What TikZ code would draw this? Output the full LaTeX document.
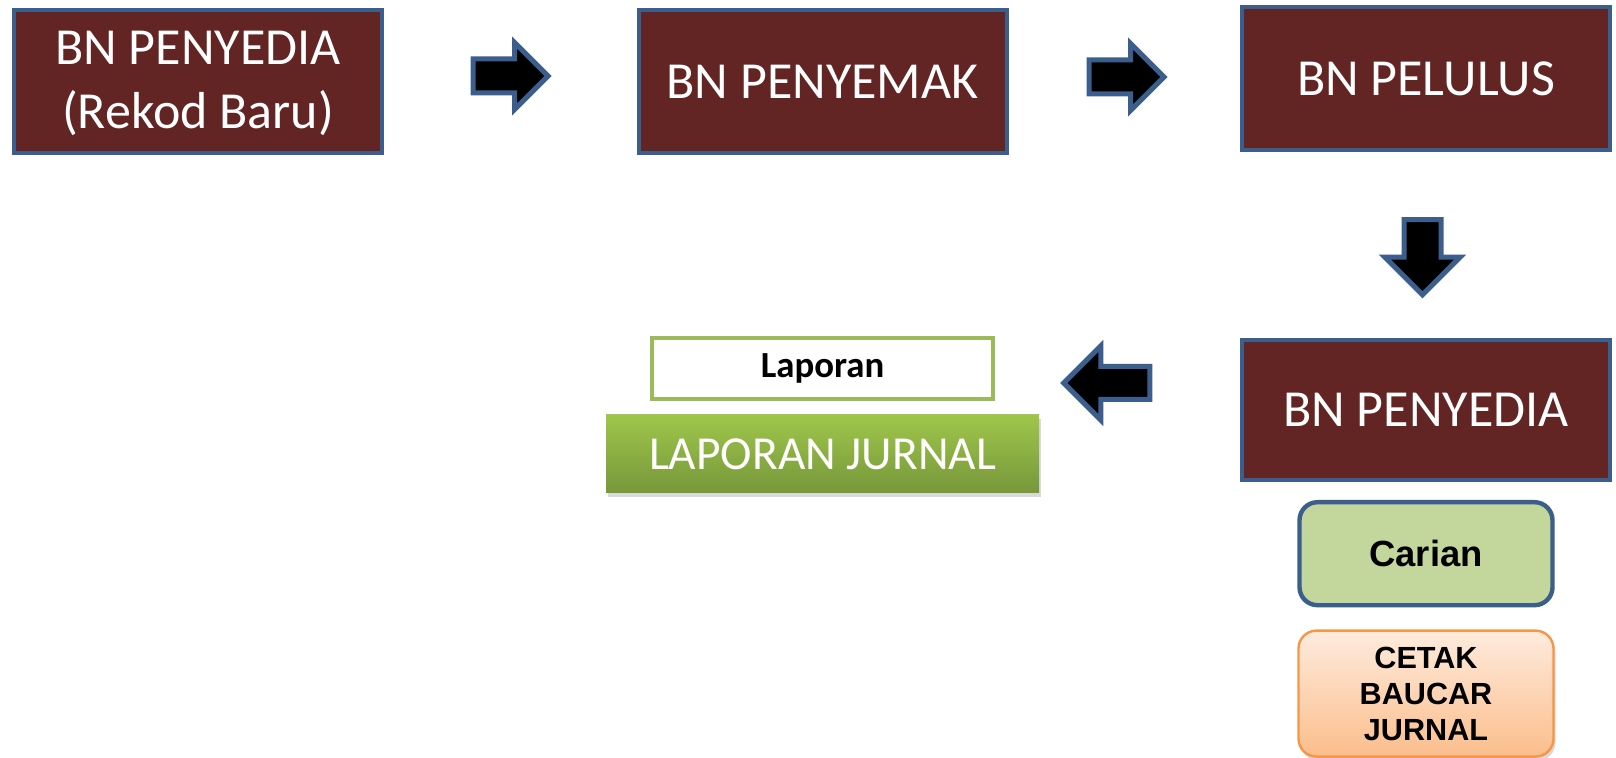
\documentclass[tikz,border=0pt]{standalone}
\usepackage{fontspec}
\setmainfont{Carlito}
\newfontfamily\arialfont{Liberation Sans}
\usepackage{tikz}
\usetikzlibrary{positioning,shapes.arrows,shadows}
\definecolor{maroon}{HTML}{632523}
\definecolor{edgeblue}{HTML}{3B5E8C}
\definecolor{olivegreen}{HTML}{9BBB59}
\definecolor{greentop}{HTML}{9FC64B}
\definecolor{greenbot}{HTML}{77973A}
\definecolor{carianfill}{HTML}{C3D69B}
\definecolor{orangeline}{HTML}{F79646}
\definecolor{orangetop}{HTML}{FEEBDD}
\definecolor{orangebot}{HTML}{FBBE8C}
\tikzstyle{stage} = [draw=edgeblue, line width=2pt, fill=maroon, text=white, minimum width=184pt, minimum height=71.5pt, inner sep=0pt, align=center, font=\fontsize{26}{32}\selectfont]
\tikzstyle{blockarrow} = [single arrow, draw=edgeblue, line width=2.5pt, fill=black, inner xsep=0pt, single arrow tip angle=90]
\tikzstyle{softshadow} = [drop shadow={shadow xshift=1pt, shadow yshift=-2pt, opacity=0.3}]

\begin{document}
\begin{tikzpicture}[x=0.5pt,y=-0.5pt]
			\useasboundingbox (0,0) rectangle (1616,758);
			\node[stage, text depth=2pt] (s) at (198,81.5) {BN PENYEDIA\\(Rekod Baru)};
			\node[stage] (t) at (822.5,81.5) {BN PENYEMAK};
			\node[stage] (u) at (1426,78.5) {BN PELULUS};
			\node[stage, minimum height=70pt] (v) at (1426,410) {BN PENYEDIA};
% 			arrows between the stages
			\node[blockarrow, minimum height=37.5pt, inner ysep=7.25pt, single arrow head extend=8.25pt] (st) at (502,76) {};
			\node[blockarrow, minimum height=37.5pt, inner ysep=7.25pt, single arrow head extend=8.25pt] (tu) at (1118,77) {};
			\node[blockarrow, shape border rotate=270, minimum height=37.5pt, inner xsep=8pt, inner ysep=0pt, single arrow head extend=9.5pt] (uv) at (1422.5,248) {};
			\node[blockarrow, shape border rotate=180, minimum height=43pt, inner ysep=7pt, single arrow head extend=10.25pt] (vj) at (1115,383) {};
% 			report
			\node[softshadow, top color=greentop, bottom color=greenbot, text=white, minimum width=216.5pt, minimum height=39pt, inner sep=0pt, font=\fontsize{23.7}{28}\selectfont] (j) at (822.5,454) {LAPORAN JURNAL};
			\node[draw=olivegreen, line width=2pt, fill=white, minimum width=170.5pt, minimum height=30.5pt, inner sep=0pt, font=\fontsize{18.4}{22}\selectfont\bfseries, above = 7pt of j] (l) {Laporan};
% 			under the last stage
			\node[draw=edgeblue, line width=2.2pt, fill=carianfill, rounded corners=9pt, minimum width=126.5pt, minimum height=51.5pt, inner sep=0pt, font=\arialfont\bfseries\fontsize{18.2}{22}\selectfont, below = 9pt of v] (c) {Carian};
			\node[softshadow, draw=orangeline, line width=1.2pt, top color=orangetop, bottom color=orangebot, rounded corners=9pt, minimum width=127.5pt, minimum height=63pt, inner sep=0pt, align=center, font=\arialfont\bfseries\fontsize{15.3}{18}\selectfont, below = 11pt of c] (p) {CETAK\\BAUCAR\\JURNAL};
		\end{tikzpicture}
\end{document}
